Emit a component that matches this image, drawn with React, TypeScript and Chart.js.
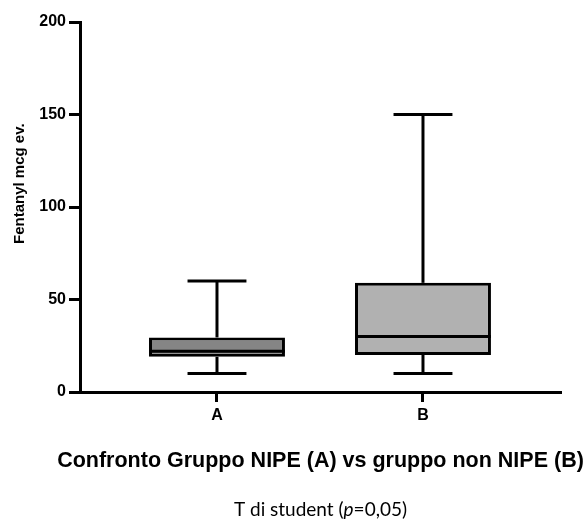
import React, { useEffect, useRef } from 'react';
import { Chart, registerables } from 'chart.js';

Chart.register(...registerables);

const categories = ['A', 'B'];
const mins = [10, 10];
const q1s = [19, 20];
const medians = [22, 30];
const q3s = [29.5, 59];
const maxs = [60, 150];
const yTicks = [0, 50, 100, 150, 200];
const boxFills = ['#858585', '#b1b1b1'];
const yTitle = 'Fentanyl mcg ev.';
const xTitle = 'Confronto Gruppo NIPE (A) vs gruppo non NIPE (B)';
const subTitleParts: [string, boolean][] = [
  ['T di student (', false],
  ['p', true],
  ['=0,05)', false],
];

const CAP_HALF = 0.143;

const whiskerPlugin = {
  id: 'whiskers',
  afterDatasetsDraw(chart: any) {
    const { ctx, scales } = chart;
    const x = scales.x;
    const y = scales.y;
    const meta = chart.getDatasetMeta(0);
    ctx.save();
    ctx.strokeStyle = '#000';
    ctx.lineWidth = 3;
    ctx.lineCap = 'butt';
    const seg = (x1: number, y1: number, x2: number, y2: number) => {
      ctx.beginPath();
      ctx.moveTo(x1, y1);
      ctx.lineTo(x2, y2);
      ctx.stroke();
    };
    categories.forEach((_, i) => {
      const cx = x.getPixelForValue(i);
      const cl = x.getPixelForValue(i - CAP_HALF);
      const cr = x.getPixelForValue(i + CAP_HALF);
      const yMax = y.getPixelForValue(maxs[i]);
      const yMin = y.getPixelForValue(mins[i]);
      const yQ1 = y.getPixelForValue(q1s[i]);
      const yQ3 = y.getPixelForValue(q3s[i]);
      const yMed = y.getPixelForValue(medians[i]);
      seg(cx, yQ3, cx, yMax);
      seg(cl, yMax, cr, yMax);
      seg(cx, yQ1, cx, yMin);
      seg(cl, yMin, cr, yMin);
      const bar = meta.data[i];
      const w = bar.width;
      seg(cx - w / 2, yMed, cx + w / 2, yMed);
    });
    ctx.restore();
  },
};

const textPlugin = {
  id: 'texts',
  afterDraw(chart: any) {
    const { ctx, chartArea } = chart;
    const midX = (chartArea.left + chartArea.right) / 2;
    ctx.save();
    ctx.fillStyle = '#000';
    // y axis title
    ctx.save();
    ctx.translate(chartArea.left - 60, 244);
    ctx.rotate(-Math.PI / 2);
    ctx.font = 'bold 15px "Liberation Sans", Arial, sans-serif';
    ctx.textAlign = 'left';
    ctx.textBaseline = 'middle';
    ctx.fillText(yTitle, 0, 0);
    ctx.restore();
    // x title
    ctx.font = 'bold 21.5px "Liberation Sans", Arial, sans-serif';
    ctx.textAlign = 'center';
    ctx.textBaseline = 'alphabetic';
    ctx.fillText(xTitle, midX, 467);
    // subtitle with italic p
    const fontN = '19px Lato, "Open Sans", sans-serif';
    const fontI = 'italic 19px Lato, "Open Sans", sans-serif';
    let total = 0;
    const widths = subTitleParts.map(([t, it]) => {
      ctx.font = it ? fontI : fontN;
      const w = ctx.measureText(t).width;
      total += w;
      return w;
    });
    let sx = midX - total / 2;
    ctx.textAlign = 'left';
    subTitleParts.forEach(([t, it], i) => {
      ctx.font = it ? fontI : fontN;
      ctx.fillText(t, sx, 516);
      sx += widths[i];
    });
    ctx.restore();
  },
};

export default function App() {
  const ref = useRef<HTMLCanvasElement | null>(null);
  useEffect(() => {
    if (!ref.current) return;
    const tickFont = { family: '"Liberation Sans", Arial, sans-serif', size: 16, weight: 'bold' as const };
    const chart = new Chart(ref.current, {
      type: 'bar',
      data: {
        datasets: [
          {
            data: categories.map((_, i) => ({ x: i, y: [q1s[i], q3s[i]] })) as any,
            backgroundColor: boxFills,
            borderColor: '#000',
            borderWidth: 3,
            borderSkipped: false,
            categoryPercentage: 1,
            barPercentage: 0.66,
          },
        ],
      },
      options: {
        animation: false,
        responsive: false,
        layout: { padding: { top: 22, right: 26, left: 0, bottom: 0 } },
        plugins: { legend: { display: false }, tooltip: { enabled: false }, title: { display: false } },
        scales: {
          x: {
            type: 'linear',
            offset: false,
            min: -0.665,
            max: 1.67,
            afterFit: (s: any) => {
              s.height = 129;
            },
            afterBuildTicks: (s: any) => {
              s.ticks = categories.map((_, i) => ({ value: i }));
            },
            ticks: {
              color: '#000',
              font: tickFont,
              padding: 4,
              autoSkip: false,
              maxRotation: 0,
              callback: (v: any) => categories[v] ?? '',
            },
            grid: {
              display: true,
              offset: false,
              drawOnChartArea: false,
              drawTicks: true,
              tickLength: 10,
              tickWidth: 3,
              tickColor: '#000',
              color: '#000',
            },
            border: { display: true, color: '#000', width: 3 },
          },
          y: {
            type: 'linear',
            min: 0,
            max: 200,
            afterFit: (s: any) => {
              s.width = 80;
            },
            afterBuildTicks: (s: any) => {
              s.ticks = yTicks.map((v) => ({ value: v }));
            },
            ticks: { color: '#000', font: tickFont, padding: 3 },
            grid: {
              display: true,
              drawOnChartArea: false,
              drawTicks: true,
              tickLength: 11,
              tickWidth: 3,
              tickColor: '#000',
              color: '#000',
            },
            border: { display: true, color: '#000', width: 3 },
          },
        },
      },
      plugins: [whiskerPlugin, textPlugin],
    });
    return () => chart.destroy();
  }, []);
  return (
    <canvas
      ref={ref}
      width={587}
      height={521}
      style={{ position: 'absolute', left: 0, top: 0, width: 587, height: 521, background: '#fff' }}
    />
  );
}
